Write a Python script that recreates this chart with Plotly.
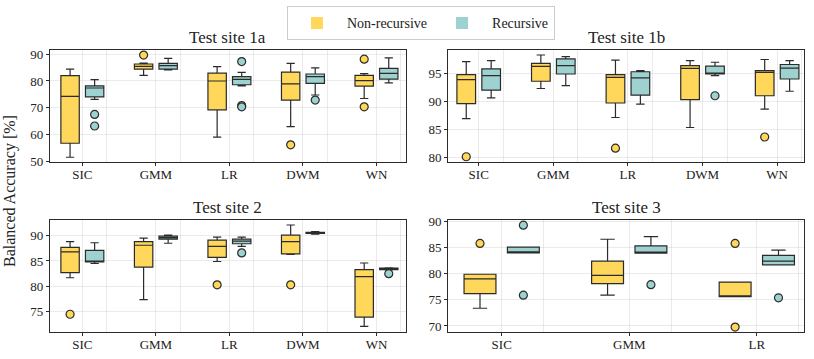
import plotly.graph_objects as go
from plotly.subplots import make_subplots

methods = ["SIC", "GMM", "LR", "DWM", "WN"]
methods_3 = ["SIC", "GMM", "LR"]

# Test site 1a
s1a_nr_lo = [51.7, 82.1, 59.2, 63.1, 73.5]
s1a_nr_q1 = [56.9, 84.4, 69.3, 72.9, 78.1]
s1a_nr_med = [74.3, 85.4, 80.0, 78.9, 80.1]
s1a_nr_q3 = [82.0, 86.3, 82.9, 83.3, 82.1]
s1a_nr_hi = [84.4, 86.6, 85.3, 86.5, 82.7]
s1a_nr_out_cat = ["GMM", "DWM", "WN", "WN"]
s1a_nr_out_val = [89.6, 56.3, 88.1, 70.4]

s1a_r_lo = [73.2, 84.1, 78.2, 74.8, 79.3]
s1a_r_q1 = [74.1, 84.4, 78.6, 79.1, 80.7]
s1a_r_med = [77.4, 85.7, 80.6, 81.6, 82.8]
s1a_r_q3 = [78.2, 86.5, 81.6, 82.6, 84.7]
s1a_r_hi = [80.5, 88.4, 83.2, 84.9, 88.6]
s1a_r_out_cat = ["SIC", "SIC", "LR", "LR", "LR", "DWM"]
s1a_r_out_val = [67.6, 63.3, 87.2, 70.9, 70.4, 72.9]

# Test site 1b
s1b_nr_lo = [86.9, 92.3, 87.1, 85.3, 88.6]
s1b_nr_q1 = [89.6, 93.6, 89.7, 90.3, 91.0]
s1b_nr_med = [93.9, 96.25, 94.3, 95.9, 95.2]
s1b_nr_q3 = [94.8, 96.8, 94.8, 96.4, 95.5]
s1b_nr_hi = [97.1, 98.3, 97.4, 97.3, 97.5]
s1b_nr_out_cat = ["SIC", "LR", "WN"]
s1b_nr_out_val = [80.06, 81.6, 83.6]

s1b_r_lo = [90.6, 92.8, 89.5, 94.6, 91.8]
s1b_r_q1 = [92.0, 94.9, 91.1, 94.9, 94.0]
s1b_r_med = [94.6, 96.4, 94.2, 95.0, 95.95]
s1b_r_q3 = [95.8, 97.6, 95.3, 96.3, 96.6]
s1b_r_hi = [97.3, 98.0, 95.5, 97.0, 97.3]
s1b_r_out_cat = ["DWM"]
s1b_r_out_val = [91.0]

# Test site 2
s2_nr_lo = [81.7, 77.4, 84.9, 86.3, 72.1]
s2_nr_q1 = [82.7, 83.8, 85.7, 86.4, 73.95]
s2_nr_med = [86.8, 88.1, 87.9, 88.8, 81.9]
s2_nr_q3 = [87.7, 88.8, 89.1, 90.1, 83.3]
s2_nr_hi = [88.8, 89.5, 89.7, 92.1, 84.6]
s2_nr_out_cat = ["SIC", "LR", "DWM"]
s2_nr_out_val = [74.5, 80.3, 80.3]

s2_r_lo = [84.5, 88.5, 87.9, 90.3, 83.25]
s2_r_q1 = [84.8, 89.3, 88.4, 90.45, 83.3]
s2_r_med = [84.95, 89.6, 88.9, 90.6, 83.5]
s2_r_q3 = [87.1, 89.9, 89.3, 90.65, 83.6]
s2_r_hi = [88.6, 90.1, 89.7, 90.8, 83.65]
s2_r_out_cat = ["LR", "WN"]
s2_r_out_val = [86.6, 82.5]

# Test site 3
s3_nr_lo = [73.4, 75.9, 75.6]
s3_nr_q1 = [76.2, 78.1, 75.6]
s3_nr_med = [79.0, 79.7, 75.7]
s3_nr_q3 = [79.9, 82.4, 78.4]
s3_nr_hi = [79.9, 86.6, 78.4]
s3_nr_out_cat = ["SIC", "LR", "LR"]
s3_nr_out_val = [85.8, 85.8, 69.8]

s3_r_lo = [84.0, 83.95, 81.7]
s3_r_q1 = [84.0, 83.95, 81.7]
s3_r_med = [84.05, 84.0, 82.4]
s3_r_q3 = [85.1, 85.35, 83.5]
s3_r_hi = [85.1, 87.1, 84.5]
s3_r_out_cat = ["SIC", "SIC", "GMM", "LR"]
s3_r_out_val = [89.3, 75.9, 77.9, 75.4]

YELLOW = "rgb(255,215,90)"
TEAL = "rgb(158,210,208)"
EDGE = "#2b2b2b"
FONT = "'Liberation Serif', 'DejaVu Serif', serif"

fig = make_subplots(
    rows=2, cols=2,
    subplot_titles=["Test site 1a", "Test site 1b", "Test site 2", "Test site 3"],
    horizontal_spacing=0.056, vertical_spacing=0.205,
)


def add_group(cats, lo, q1, med, q3, hi, out_cat, out_val, row, col, color, name, offset):
    pos = [cats.index(c) + offset for c in cats]
    fig.add_trace(go.Box(
        x=pos, lowerfence=lo, q1=q1, median=med, q3=q3, upperfence=hi,
        width=0.25, whiskerwidth=0.45, boxpoints=False,
        fillcolor=color, line=dict(color=EDGE, width=1.2),
        name=name, legendgroup=name, showlegend=False,
    ), row=row, col=col)
    fig.add_trace(go.Scatter(
        x=[cats.index(c) + offset for c in out_cat], y=out_val, mode="markers",
        marker=dict(size=8, color=color, line=dict(color=EDGE, width=1.2)),
        legendgroup=name, showlegend=False, hoverinfo="y",
    ), row=row, col=col)


add_group(methods, s1a_nr_lo, s1a_nr_q1, s1a_nr_med, s1a_nr_q3, s1a_nr_hi,
          s1a_nr_out_cat, s1a_nr_out_val, 1, 1, YELLOW, "Non-recursive", -0.167)
add_group(methods, s1a_r_lo, s1a_r_q1, s1a_r_med, s1a_r_q3, s1a_r_hi,
          s1a_r_out_cat, s1a_r_out_val, 1, 1, TEAL, "Recursive", 0.167)
add_group(methods, s1b_nr_lo, s1b_nr_q1, s1b_nr_med, s1b_nr_q3, s1b_nr_hi,
          s1b_nr_out_cat, s1b_nr_out_val, 1, 2, YELLOW, "Non-recursive", -0.167)
add_group(methods, s1b_r_lo, s1b_r_q1, s1b_r_med, s1b_r_q3, s1b_r_hi,
          s1b_r_out_cat, s1b_r_out_val, 1, 2, TEAL, "Recursive", 0.167)
add_group(methods, s2_nr_lo, s2_nr_q1, s2_nr_med, s2_nr_q3, s2_nr_hi,
          s2_nr_out_cat, s2_nr_out_val, 2, 1, YELLOW, "Non-recursive", -0.167)
add_group(methods, s2_r_lo, s2_r_q1, s2_r_med, s2_r_q3, s2_r_hi,
          s2_r_out_cat, s2_r_out_val, 2, 1, TEAL, "Recursive", 0.167)
add_group(methods_3, s3_nr_lo, s3_nr_q1, s3_nr_med, s3_nr_q3, s3_nr_hi,
          s3_nr_out_cat, s3_nr_out_val, 2, 2, YELLOW, "Non-recursive", -0.17)
add_group(methods_3, s3_r_lo, s3_r_q1, s3_r_med, s3_r_q3, s3_r_hi,
          s3_r_out_cat, s3_r_out_val, 2, 2, TEAL, "Recursive", 0.17)

# legend entries as plain filled patches
for name, color in [("Non-recursive", YELLOW), ("Recursive", TEAL)]:
    fig.add_trace(go.Bar(x=[None], y=[None], name=name, marker=dict(color=color, line=dict(width=0)),
                         legendgroup=name, showlegend=True), row=1, col=1)

axis_style = dict(
    showline=True, mirror=True, linecolor=EDGE, linewidth=1.2,
    showgrid=True, gridcolor="rgba(0,0,0,0.08)", gridwidth=1,
    ticks="outside", ticklen=3, tickcolor=EDGE, zeroline=False,
    tickfont=dict(family=FONT, size=13, color="#222"),
)

for (r, c), cats, xr in [((1, 1), methods, [-0.44, 4.4]), ((1, 2), methods, [-0.41, 4.36]),
                         ((2, 1), methods, [-0.44, 4.4]), ((2, 2), methods_3, [-0.42, 2.37])]:
    fig.update_xaxes(
        range=xr, tickvals=list(range(len(cats))), ticktext=cats, ticklabelstandoff=-3,
        minor=dict(tickvals=[i + 0.33 for i in range(len(cats))], showgrid=True,
                   gridcolor="rgba(0,0,0,0.08)", ticks="", ticklen=0),
        row=r, col=c, **axis_style,
    )

fig.update_yaxes(range=[49.9, 91.5], tickvals=[50, 60, 70, 80, 90], row=1, col=1, **axis_style)
fig.update_yaxes(range=[79.1, 99.2], tickvals=[80, 85, 90, 95], row=1, col=2, **axis_style)
fig.update_yaxes(range=[71.0, 93.1], tickvals=[75, 80, 85, 90], row=2, col=1, **axis_style)
fig.update_yaxes(range=[68.85, 90.3], tickvals=[70, 75, 80, 85, 90], row=2, col=2, **axis_style)

for ann in fig.layout.annotations:
    ann.font = dict(family=FONT, size=17, color="#222")
    ann.yshift = 1

fig.add_annotation(
    text="Balanced Accuracy [%]", xref="paper", yref="paper", x=-0.053, y=0.5,
    xanchor="center", yanchor="middle",
    textangle=-90, showarrow=False, font=dict(family=FONT, size=16, color="#222"),
)

fig.update_layout(
    width=814, height=359,
    margin=dict(l=50, r=10, t=50, b=27, autoexpand=False),
    plot_bgcolor="white", paper_bgcolor="white",
    boxmode="overlay", barmode="overlay",
    legend=dict(
        orientation="h", x=0.492, y=1.155, xanchor="center", yanchor="top",
        bordercolor="#cccccc", borderwidth=1, bgcolor="white",
        font=dict(family=FONT, size=14, color="#222"), itemwidth=50,
    ),
)

# page body has a default 8px margin; drop it so the figure sits at the window corner
fig.write_html("out.html", config={"displayModeBar": False},
               post_script="document.body.style.margin='0px';")
